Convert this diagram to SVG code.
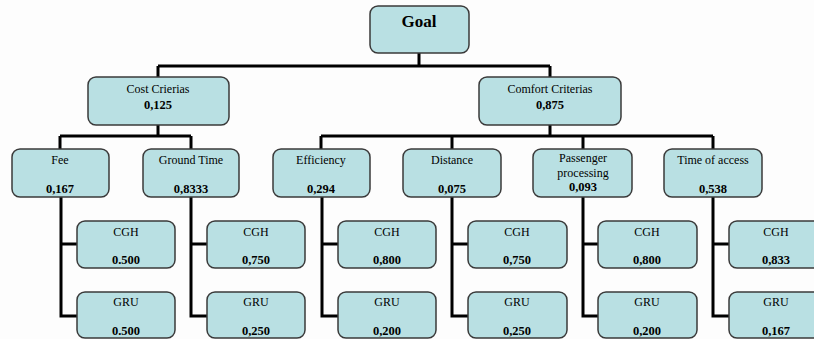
<svg xmlns="http://www.w3.org/2000/svg" width="814" height="339" viewBox="0 0 814 339">
<style>
.box{fill:#b9e0e3;stroke:#3a3a3a;stroke-width:1.5}
.t{font-family:"Liberation Serif","Times New Roman",serif;font-size:12px;fill:#000;text-anchor:middle}
.b{font-weight:bold;font-size:12.5px}
.g{font-weight:bold;font-size:17px}
.c{fill:none;stroke:#000;stroke-width:3;stroke-linejoin:miter}
</style>
<rect width="814" height="339" fill="#fdfdfd"/>
<g id="connectors">
<path class="c" d="M419,53 V66 M158,66 H550 M158,66 V77 M550,66 V77"/>
<path class="c" d="M158,125 V136 M60,136 H191 M60,136 V149 M191,136 V149"/>
<path class="c" d="M550,125 V136 M321,136 H713 M321,136 V149 M452,136 V149 M583,136 V149 M713,136 V149"/>
<path class="c" d="M61,197 V316 H77 M61,244 H77"/>
<path class="c" d="M191,197 V316 H207 M191,244 H207"/>
<path class="c" d="M322,197 V316 H338 M322,244 H338"/>
<path class="c" d="M452,197 V316 H468 M452,244 H468"/>
<path class="c" d="M583,197 V316 H598 M583,244 H598"/>
<path class="c" d="M713,197 V316 H729 M713,244 H729"/>
</g>
<g id="goal"><rect class="box" x="370" y="6" width="99" height="47" rx="8"/><text class="t g" x="419" y="27">Goal</text></g>
<g id="cost"><rect class="box" x="88" y="77" width="141" height="48" rx="8"/><text class="t" x="158" y="93">Cost Crierias</text><text class="t b" x="158" y="109">0,125</text></g>
<g id="comfort"><rect class="box" x="479" y="77" width="142" height="48" rx="8"/><text class="t" x="550" y="93">Comfort Criterias</text><text class="t b" x="550" y="109">0,875</text></g>
<g id="fee"><rect class="box" x="12" y="149" width="97" height="48" rx="8"/><text class="t" x="60" y="164">Fee</text><text class="t b" x="60" y="193">0,167</text></g>
<g id="ground"><rect class="box" x="143" y="149" width="96" height="48" rx="8"/><text class="t" x="191" y="164">Ground Time</text><text class="t b" x="191" y="193">0,8333</text></g>
<g id="efficiency"><rect class="box" x="273" y="149" width="97" height="48" rx="8"/><text class="t" x="321" y="164">Efficiency</text><text class="t b" x="321" y="193">0,294</text></g>
<g id="distance"><rect class="box" x="403" y="149" width="98" height="48" rx="8"/><text class="t" x="452" y="164">Distance</text><text class="t b" x="452" y="193">0,075</text></g>
<g id="passenger"><rect class="box" x="533" y="149" width="99" height="48" rx="8"/><text class="t" x="583" y="162">Passenger</text><text class="t" x="583" y="177">processing</text><text class="t b" x="583" y="191">0,093</text></g>
<g id="access"><rect class="box" x="664" y="149" width="98" height="48" rx="8"/><text class="t" x="713" y="164">Time of access</text><text class="t b" x="713" y="193">0,538</text></g>
<g id="fee-cgh"><rect class="box" x="77" y="221" width="98" height="47" rx="8"/><text class="t" x="126" y="236">CGH</text><text class="t b" x="126" y="264">0.500</text></g>
<g id="fee-gru"><rect class="box" x="77" y="292" width="98" height="46" rx="8"/><text class="t" x="126" y="306">GRU</text><text class="t b" x="126" y="335">0.500</text></g>
<g id="ground-cgh"><rect class="box" x="207" y="221" width="98" height="47" rx="8"/><text class="t" x="256" y="236">CGH</text><text class="t b" x="256" y="264">0,750</text></g>
<g id="ground-gru"><rect class="box" x="207" y="292" width="98" height="46" rx="8"/><text class="t" x="256" y="306">GRU</text><text class="t b" x="256" y="335">0,250</text></g>
<g id="eff-cgh"><rect class="box" x="338" y="221" width="98" height="47" rx="8"/><text class="t" x="387" y="236">CGH</text><text class="t b" x="387" y="264">0,800</text></g>
<g id="eff-gru"><rect class="box" x="338" y="292" width="98" height="46" rx="8"/><text class="t" x="387" y="306">GRU</text><text class="t b" x="387" y="335">0,200</text></g>
<g id="dist-cgh"><rect class="box" x="468" y="221" width="99" height="47" rx="8"/><text class="t" x="517" y="236">CGH</text><text class="t b" x="517" y="264">0,750</text></g>
<g id="dist-gru"><rect class="box" x="468" y="292" width="99" height="46" rx="8"/><text class="t" x="517" y="306">GRU</text><text class="t b" x="517" y="335">0,250</text></g>
<g id="pass-cgh"><rect class="box" x="598" y="221" width="99" height="47" rx="8"/><text class="t" x="647" y="236">CGH</text><text class="t b" x="647" y="264">0,800</text></g>
<g id="pass-gru"><rect class="box" x="598" y="292" width="99" height="46" rx="8"/><text class="t" x="647" y="306">GRU</text><text class="t b" x="647" y="335">0,200</text></g>
<g id="acc-cgh"><rect class="box" x="729" y="221" width="98" height="47" rx="8"/><text class="t" x="776" y="236">CGH</text><text class="t b" x="776" y="264">0,833</text></g>
<g id="acc-gru"><rect class="box" x="729" y="292" width="98" height="46" rx="8"/><text class="t" x="776" y="306">GRU</text><text class="t b" x="776" y="335">0,167</text></g>
</svg>
